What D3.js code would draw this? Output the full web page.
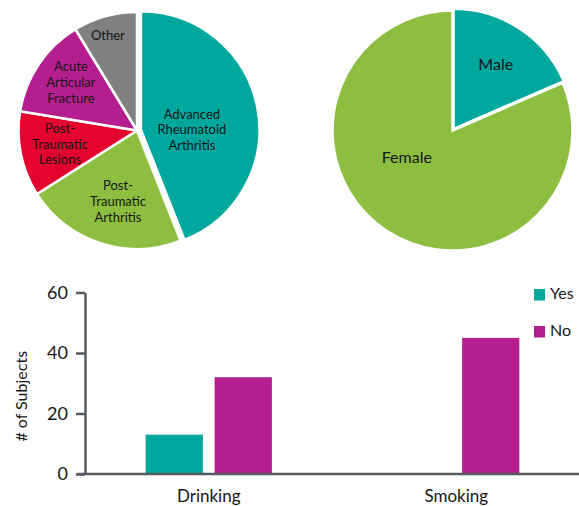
<!DOCTYPE html>
<html>
<head>
<meta charset="utf-8">
<script src="https://cdn.jsdelivr.net/npm/d3@7"></script>
<style>
  html, body { margin: 0; padding: 0; background: #fff; }
  svg { display: block; font-family: Lato, "Open Sans", "DejaVu Sans", sans-serif; }
</style>
</head>
<body>
<svg id="chart" width="579" height="506"></svg>
<script>
// Indication for surgery (share of subjects)
const indications = ["Advanced Rheumatoid Arthritis", "Post-Traumatic Arthritis", "Post-Traumatic Lesions", "Acute Articular Fracture", "Other"];
const indicationLines = [["Advanced", "Rheumatoid", "Arthritis"], ["Post-", "Traumatic", "Arthritis"], ["Post-", "Traumatic", "Lesions"], ["Acute", "Articular", "Fracture"], ["Other"]];
const indicationValues = [44, 22, 11.6, 13.7, 8.7];
const indicationColors = ["#00A79D", "#8DBE40", "#E4032E", "#B41E8E", "#808080"];

// Sex distribution
const sexes = ["Male", "Female"];
const sexValues = [18.5, 81.5];
const sexColors = ["#00A79D", "#8DBE40"];

// Lifestyle factors
const habits = ["Drinking", "Smoking"];
const answers = ["Yes", "No"];
const yesCounts = [13, 0];
const noCounts = [32, 45];
const answerColors = ["#00A79D", "#B41E8E"];
const yTicks = [0, 20, 40, 60];

const svg = d3.select("#chart");
const textColor = "#161616";
const axisColor = "#555a61";

// ---------- pie helper ----------
function drawPie(opts) {
  const g = svg.append("g").attr("transform", `translate(${opts.cx},${opts.cy})`);
  const pie = d3.pie().sort(null).value(d => d.value);
  const arc = d3.arc().innerRadius(0).outerRadius(opts.r);
  const arcs = pie(opts.data);

  const slice = g.selectAll("g.slice").data(arcs).enter().append("g")
    .attr("class", "slice")
    .attr("transform", d => {
      const e = opts.explode[d.index] || 0;
      const a = (d.startAngle + d.endAngle) / 2;
      return `translate(${e * Math.sin(a)},${-e * Math.cos(a)})`;
    });

  slice.append("path")
    .attr("d", arc)
    .attr("fill", d => d.data.color)
    .attr("stroke", "#fff")
    .attr("stroke-width", opts.strokeWidth)
    .attr("stroke-linejoin", "miter");

  // one text element per line, stacked around the label anchor
  slice.each(function(d) {
    const pos = opts.labelPos[d.index];
    const a = (pos.angle !== undefined ? pos.angle * Math.PI / 180 : (d.startAngle + d.endAngle) / 2);
    const rr = pos.k * opts.r;
    const x = rr * Math.sin(a), y = -rr * Math.cos(a);
    const lines = d.data.lines;
    d3.select(this).selectAll("text.lbl").data(lines).enter().append("text")
      .attr("class", "lbl")
      .attr("x", x)
      .attr("y", (ln, i) => y + (i - (lines.length - 1) / 2) * opts.lineHeight)
      .attr("dy", "0.35em")
      .attr("text-anchor", "middle")
      .attr("fill", textColor)
      .style("font-size", opts.fontSize + "px")
      .text(ln => ln);
  });
}

drawPie({
  cx: 137, cy: 130.5, r: 118.5, strokeWidth: 2.5, fontSize: 13, lineHeight: 15.7,
  data: indications.map((n, i) => ({ name: n, lines: indicationLines[i], value: indicationValues[i], color: indicationColors[i] })),
  explode: [4, 0, 0, 0, 0],
  labelPos: [{ angle: 90, k: 0.43 }, { angle: 195, k: 0.62 }, { angle: 260, k: 0.66 }, { angle: 306, k: 0.69 }, { angle: 343, k: 0.84 }]
});

drawPie({
  cx: 452.5, cy: 130.5, r: 120, strokeWidth: 2.5, fontSize: 16, lineHeight: 16,
  data: sexes.map((n, i) => ({ name: n, lines: [n], value: sexValues[i], color: sexColors[i] })),
  explode: [2, 0],
  labelPos: [{ k: 0.64 }, { angle: 240, k: 0.44 }]
});

// ---------- grouped bar chart ----------
const plot = { left: 85, right: 580, top: 292.5, bottom: 474 };

const y = d3.scaleLinear().domain([0, 60]).range([plot.bottom, plot.top]);
const x0 = d3.scaleBand().domain(habits).range([plot.left, plot.right]).padding(0);
const x1 = d3.scaleBand().domain(answers)
  .range([x0.bandwidth() * 0.245, x0.bandwidth() * 0.755])
  .paddingInner(0.17).paddingOuter(0);

const barData = habits.map((h, i) => ({ habit: h, values: [yesCounts[i], noCounts[i]] }));

const groups = svg.append("g").selectAll("g").data(barData).enter().append("g")
  .attr("transform", d => `translate(${x0(d.habit)},0)`);

groups.selectAll("rect")
  .data(d => d.values.map((v, j) => ({ answer: answers[j], value: v, color: answerColors[j] })))
  .enter().append("rect")
  .filter(d => d.value > 0)
  .attr("x", d => x1(d.answer))
  .attr("width", x1.bandwidth())
  .attr("y", d => y(d.value))
  .attr("height", d => plot.bottom - y(d.value))
  .attr("fill", d => d.color);

// y axis
const yAxis = svg.append("g")
  .attr("transform", `translate(${plot.left},0)`)
  .call(d3.axisLeft(y).tickValues(yTicks).tickSize(9).tickSizeOuter(0).tickPadding(8));
yAxis.select(".domain").attr("stroke", axisColor).attr("stroke-width", 2.5);
yAxis.selectAll(".tick line").attr("stroke", axisColor).attr("stroke-width", 2.5);
yAxis.selectAll(".tick text").attr("fill", textColor).style("font-size", "18px").style("font-family", "Lato, sans-serif");

// x axis
const xAxis = svg.append("g")
  .attr("transform", `translate(0,${plot.bottom})`)
  .call(d3.axisBottom(x0).tickSize(0).tickSizeOuter(0).tickPadding(16));
xAxis.select(".domain").attr("stroke", axisColor).attr("stroke-width", 2.5)
  .attr("d", `M${plot.left - 8},0H579`);
xAxis.selectAll(".tick text").attr("fill", textColor).style("font-size", "17px").style("font-family", "Lato, sans-serif");

// y axis title
svg.append("text")
  .attr("transform", `translate(21,${(plot.top + plot.bottom) / 2 + 13}) rotate(-90)`)
  .attr("text-anchor", "middle")
  .attr("dy", "0.35em")
  .attr("fill", textColor)
  .style("font-size", "16px")
  .text("# of Subjects");

// legend
const legend = svg.append("g").attr("transform", "translate(534,289)");
const items = legend.selectAll("g").data(answers).enter().append("g")
  .attr("transform", (d, i) => `translate(0,${i * 37})`);
items.append("rect").attr("width", 11).attr("height", 11.5)
  .attr("fill", (d, i) => answerColors[i]);
items.append("text").attr("x", 16).attr("y", 4)
  .attr("dy", "0.35em")
  .attr("fill", textColor)
  .style("font-size", "16px")
  .text(d => d);
</script>
</body>
</html>
